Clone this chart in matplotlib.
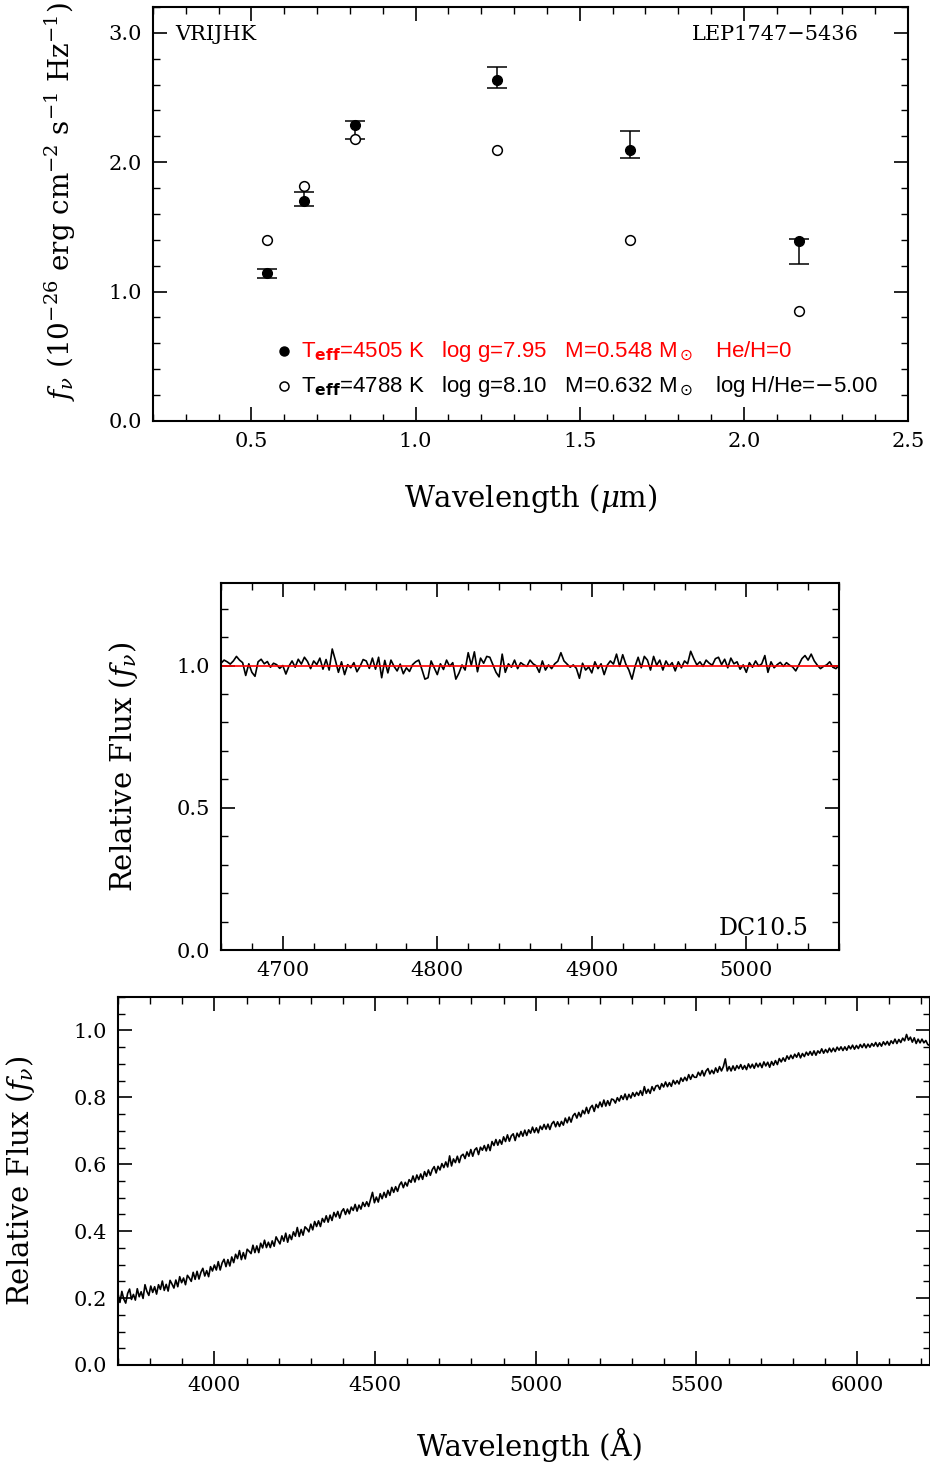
import matplotlib
matplotlib.use('Agg')
import matplotlib.pyplot as plt
import matplotlib.ticker as mt
import numpy as np

plt.rcParams['font.family'] = 'DejaVu Serif'
plt.rcParams['mathtext.fontset'] = 'dejavuserif'

# photometry (VRIJHK), microns
band_wave = [0.546, 0.659, 0.814, 1.247, 1.653, 2.168]
obs_flux = [1.143, 1.715, 2.248, 2.657, 2.140, 1.310]
obs_err = [0.035, 0.053, 0.068, 0.080, 0.104, 0.093]
model_h = [1.141, 1.699, 2.288, 2.639, 2.097, 1.390]
model_he = [1.396, 1.817, 2.177, 2.092, 1.401, 0.850]

# close-up spectrum, 2 A sampling from 4660 A
zoom_start, zoom_step = 4660, 2
zoom_flux = [
    1.008, 1.019, 1.013, 1.005, 1.016, 1.032, 1.019, 1.010, 0.965, 1.006,
    0.976, 0.962, 1.013, 1.022, 1.006, 1.014, 0.994, 1.008, 1.003, 0.990,
    1.000, 0.970, 0.998, 1.016, 0.994, 1.022, 1.005, 1.029, 1.014, 0.989,
    1.016, 1.003, 1.026, 0.987, 1.021, 0.984, 1.058, 1.019, 0.976, 1.013,
    0.968, 1.003, 0.992, 1.010, 0.978, 0.997, 1.021, 1.016, 0.990, 1.026,
    0.987, 1.029, 0.957, 1.018, 0.974, 1.019, 0.997, 0.981, 1.005, 0.971,
    0.992, 0.979, 1.003, 1.013, 1.019, 0.987, 0.952, 0.957, 1.016, 0.992,
    0.968, 1.006, 0.986, 1.019, 0.997, 1.010, 0.952, 0.973, 1.002, 0.984,
    1.045, 1.001, 1.048, 0.978, 1.026, 1.008, 1.032, 1.029, 1.003, 0.976,
    0.960, 1.040, 0.976, 1.006, 0.994, 1.019, 0.989, 1.010, 1.002, 0.997,
    1.019, 1.006, 0.999, 0.976, 1.016, 0.984, 1.002, 0.989, 1.006, 1.015,
    1.045, 1.016, 1.005, 0.994, 1.002, 0.990, 0.955, 1.008, 0.984, 0.995,
    0.974, 1.013, 0.989, 1.006, 0.968, 1.001, 1.016, 1.005, 1.040, 0.997,
    1.038, 1.005, 0.984, 0.952, 0.997, 1.029, 0.992, 1.032, 1.019, 0.984,
    1.032, 1.001, 1.019, 0.984, 1.016, 0.997, 1.010, 0.981, 1.013, 0.992,
    1.016, 1.006, 1.050, 1.024, 1.002, 1.013, 0.997, 1.019, 1.008, 1.001,
    1.024, 1.029, 1.003, 1.022, 0.992, 1.026, 1.006, 1.013, 0.987, 1.002,
    0.976, 1.010, 0.994, 1.016, 0.998, 1.006, 1.035, 0.976, 1.013, 0.992,
    1.003, 1.011, 0.997, 1.010, 1.001, 0.995, 0.981, 1.002, 1.024, 1.035,
    1.019, 1.040, 1.016, 1.001, 0.989, 0.997, 1.002, 1.013, 0.994, 0.989,
    1.000]
zoom_model_wave = [4660, 5060]
zoom_model_flux = [1.0, 1.0]

# full spectrum, 6 A sampling from 3700 A
spec_start, spec_step = 3700, 6
spec_flux = [
    0.213, 0.187, 0.220, 0.197, 0.185, 0.214, 0.227, 0.196, 0.211, 0.194,
    0.228, 0.204, 0.219, 0.199, 0.240, 0.220, 0.208, 0.236, 0.217, 0.234,
    0.212, 0.240, 0.226, 0.251, 0.223, 0.241, 0.221, 0.253, 0.242, 0.230,
    0.254, 0.234, 0.264, 0.246, 0.260, 0.240, 0.268, 0.260, 0.250, 0.277,
    0.256, 0.280, 0.257, 0.277, 0.289, 0.266, 0.282, 0.264, 0.294, 0.281,
    0.299, 0.284, 0.309, 0.284, 0.305, 0.316, 0.294, 0.315, 0.296, 0.323,
    0.306, 0.331, 0.318, 0.342, 0.315, 0.336, 0.317, 0.346, 0.340, 0.333,
    0.358, 0.336, 0.356, 0.336, 0.364, 0.350, 0.373, 0.351, 0.367, 0.351,
    0.371, 0.355, 0.383, 0.372, 0.362, 0.386, 0.370, 0.394, 0.367, 0.389,
    0.375, 0.398, 0.385, 0.411, 0.384, 0.405, 0.388, 0.413, 0.407, 0.398,
    0.421, 0.404, 0.429, 0.414, 0.431, 0.414, 0.438, 0.427, 0.446, 0.427,
    0.448, 0.432, 0.456, 0.443, 0.459, 0.439, 0.459, 0.467, 0.450, 0.466,
    0.452, 0.472, 0.462, 0.480, 0.460, 0.478, 0.466, 0.486, 0.474, 0.488,
    0.474, 0.495, 0.516, 0.485, 0.502, 0.487, 0.512, 0.497, 0.516, 0.501,
    0.522, 0.507, 0.531, 0.516, 0.533, 0.519, 0.538, 0.547, 0.530, 0.546,
    0.535, 0.554, 0.546, 0.565, 0.547, 0.568, 0.554, 0.571, 0.555, 0.578,
    0.564, 0.583, 0.567, 0.584, 0.593, 0.574, 0.594, 0.583, 0.602, 0.590,
    0.607, 0.592, 0.625, 0.595, 0.616, 0.605, 0.624, 0.605, 0.625, 0.630,
    0.617, 0.637, 0.624, 0.644, 0.624, 0.643, 0.649, 0.629, 0.651, 0.642,
    0.656, 0.640, 0.659, 0.641, 0.668, 0.656, 0.674, 0.657, 0.673, 0.660,
    0.682, 0.668, 0.688, 0.669, 0.685, 0.691, 0.671, 0.693, 0.682, 0.698,
    0.684, 0.702, 0.686, 0.703, 0.693, 0.711, 0.695, 0.709, 0.694, 0.714,
    0.704, 0.719, 0.705, 0.720, 0.704, 0.721, 0.728, 0.712, 0.727, 0.713,
    0.728, 0.717, 0.738, 0.724, 0.741, 0.726, 0.745, 0.752, 0.738, 0.755,
    0.742, 0.761, 0.751, 0.770, 0.752, 0.769, 0.776, 0.758, 0.779, 0.769,
    0.786, 0.772, 0.792, 0.774, 0.790, 0.776, 0.795, 0.793, 0.783, 0.799,
    0.789, 0.805, 0.794, 0.810, 0.793, 0.809, 0.798, 0.814, 0.803, 0.815,
    0.806, 0.820, 0.806, 0.832, 0.812, 0.824, 0.812, 0.832, 0.820, 0.834,
    0.836, 0.824, 0.841, 0.831, 0.846, 0.832, 0.844, 0.833, 0.851, 0.840,
    0.850, 0.840, 0.858, 0.848, 0.860, 0.850, 0.868, 0.854, 0.868, 0.860,
    0.860, 0.875, 0.865, 0.880, 0.864, 0.879, 0.886, 0.870, 0.881, 0.871,
    0.888, 0.875, 0.892, 0.879, 0.892, 0.915, 0.879, 0.892, 0.879, 0.894,
    0.881, 0.895, 0.886, 0.898, 0.884, 0.895, 0.883, 0.900, 0.888, 0.899,
    0.887, 0.902, 0.891, 0.902, 0.889, 0.906, 0.894, 0.905, 0.890, 0.907,
    0.896, 0.910, 0.898, 0.916, 0.906, 0.918, 0.908, 0.924, 0.914, 0.926,
    0.916, 0.929, 0.920, 0.933, 0.918, 0.931, 0.922, 0.935, 0.926, 0.937,
    0.926, 0.939, 0.926, 0.939, 0.932, 0.945, 0.932, 0.943, 0.934, 0.947,
    0.936, 0.947, 0.937, 0.950, 0.941, 0.951, 0.940, 0.951, 0.941, 0.954,
    0.945, 0.956, 0.944, 0.955, 0.946, 0.958, 0.949, 0.960, 0.948, 0.959,
    0.950, 0.961, 0.953, 0.964, 0.952, 0.963, 0.953, 0.966, 0.957, 0.967,
    0.956, 0.969, 0.961, 0.974, 0.961, 0.973, 0.964, 0.977, 0.969, 0.988,
    0.971, 0.980, 0.965, 0.978, 0.961, 0.974, 0.963, 0.974, 0.963, 0.970,
    0.958, 0.955]

zoom_wave = zoom_start + zoom_step * np.arange(len(zoom_flux))
spec_wave = spec_start + spec_step * np.arange(len(spec_flux))

W, H = 930, 1463
fig = plt.figure(figsize=(W / 100, H / 100), dpi=100)


def box(l, t, r, b):
    return [l / W, 1 - b / H, (r - l) / W, (b - t) / H]


def style(ax):
    ax.tick_params(which='both', direction='in', top=True, right=True, labelsize=15, pad=8)
    ax.tick_params(which='major', length=10, width=1.2)
    ax.tick_params(which='minor', length=5, width=1.0)
    for s in ax.spines.values():
        s.set_linewidth(1.5)


# --- photometry panel
ax1 = fig.add_axes(box(153, 7, 908, 421))
ax1.errorbar(band_wave, obs_flux, yerr=obs_err, fmt='none', ecolor='k', elinewidth=1.1, capsize=7, capthick=1.1)
ax1.plot(band_wave, model_h, 'o', color='k', ms=7)
ax1.plot(band_wave, model_he, 'o', mfc='white', mec='k', mew=1.1, ms=7)
ax1.set_xlim(0.2, 2.5)
ax1.set_ylim(0, 3.2)
ax1.xaxis.set_major_locator(mt.MultipleLocator(0.5))
ax1.xaxis.set_minor_locator(mt.MultipleLocator(0.1))
ax1.yaxis.set_major_locator(mt.MultipleLocator(1.0))
ax1.yaxis.set_minor_locator(mt.MultipleLocator(0.2))
ax1.xaxis.set_major_formatter('{x:.1f}')
ax1.yaxis.set_major_formatter('{x:.1f}')
style(ax1)
ax1.set_xlabel(r'Wavelength ($\mu$m)', fontsize=21)
ax1.xaxis.set_label_coords(0.5, -0.148)
ax1.set_ylabel(r'$f_\nu$ (10$^{-26}$ erg cm$^{-2}$ s$^{-1}$ Hz$^{-1}$)', fontsize=20)
ax1.yaxis.set_label_coords(-0.099, 0.529)
ax1.text(0.03, 0.92, 'VRIJHK', transform=ax1.transAxes, fontsize=15)
ax1.text(0.935, 0.92, 'LEP1747\u22125436', transform=ax1.transAxes, fontsize=15, ha='right')

leg_kw = dict(fontsize=16, family='Liberation Sans', math_fontfamily='dejavusans', va='center')
ax1.plot([0.60], [0.54], 'o', color='k', ms=6.5)
ax1.text(0.652, 0.54, r'T$_{\bf eff}$=4505 K   log g=7.95   M=0.548 M$_\odot$   He/H=0', color='red', **leg_kw)
ax1.plot([0.60], [0.27], 'o', mfc='white', mec='k', mew=1.1, ms=6.5)
ax1.text(0.652, 0.27, r'T$_{\bf eff}$=4788 K   log g=8.10   M=0.632 M$_\odot$   log H/He=$-$5.00', color='k', **leg_kw)

# --- close-up spectrum
ax2 = fig.add_axes(box(221, 583, 839, 950))
ax2.plot(zoom_wave, zoom_flux, color='k', lw=1.2)
ax2.plot(zoom_model_wave, zoom_model_flux, color='red', lw=1.2)
ax2.set_xlim(4660, 5060)
ax2.set_ylim(0, 1.29)
ax2.xaxis.set_major_locator(mt.MultipleLocator(100))
ax2.xaxis.set_minor_locator(mt.MultipleLocator(20))
ax2.yaxis.set_major_locator(mt.MultipleLocator(0.5))
ax2.yaxis.set_minor_locator(mt.MultipleLocator(0.1))
ax2.yaxis.set_major_formatter('{x:.1f}')
style(ax2)
ax2.set_ylabel(r'Relative Flux ($f_\nu$)', fontsize=21)
ax2.yaxis.set_label_coords(-0.131, 0.5)
ax2.text(0.95, 0.04, 'DC10.5', transform=ax2.transAxes, fontsize=17, ha='right')

# --- full spectrum
ax3 = fig.add_axes(box(118, 997, 930, 1365))
ax3.plot(spec_wave, spec_flux, color='k', lw=1.2)
ax3.set_xlim(3700, 6227)
ax3.set_ylim(0, 1.1)
ax3.xaxis.set_major_locator(mt.MultipleLocator(500))
ax3.xaxis.set_minor_locator(mt.MultipleLocator(100))
ax3.yaxis.set_major_locator(mt.MultipleLocator(0.2))
ax3.yaxis.set_minor_locator(mt.MultipleLocator(0.05))
ax3.yaxis.set_major_formatter('{x:.1f}')
style(ax3)
ax3.set_ylabel(r'Relative Flux ($f_\nu$)', fontsize=21)
ax3.yaxis.set_label_coords(-0.0998, 0.5)
ax3.set_xlabel(u'Wavelength (\u00c5)', fontsize=21)
ax3.xaxis.set_label_coords(0.507, -0.171)

fig.savefig('out.png', dpi=100)
